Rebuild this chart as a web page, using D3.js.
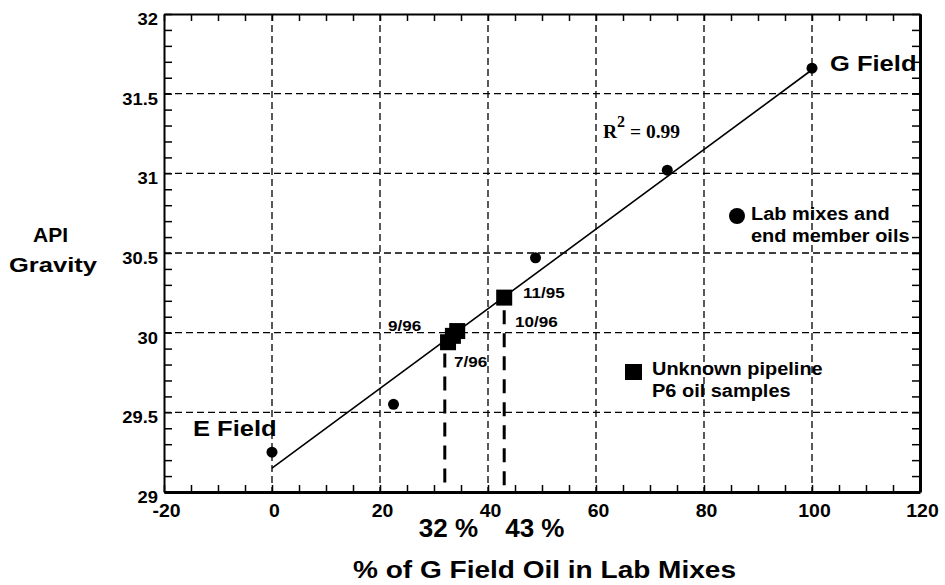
<!DOCTYPE html>
<meta charset="utf-8">
<style>
  body { margin: 0; background: #fff; }
  text { font-family: "Liberation Sans", Arial, sans-serif; font-weight: bold; fill: #000; }
  .serif { font-family: "Liberation Serif", "Times New Roman", serif; }
</style>
<body>
<svg></svg>
<script src="https://cdn.jsdelivr.net/npm/d3@7"></script>
<script>

  // data
  var labMix = [[0, 29.25], [22.5, 29.55], [48.8, 30.47], [73.2, 31.02], [100, 31.66]];  // lab mixes + end members
  var pipeline = [[32.6, 29.94], [33.5, 29.98], [34.3, 30.01], [43.0, 30.22]];         // P6 samples
  var fitLine = [[0, 29.15], [100, 31.65]];          // regression, R2 = 0.99
  var estimates = [[32, 29.87], [43, 30.14]];        // % G field estimates, top of dashed marker
  var xTicks = [-20, 0, 20, 40, 60, 80, 100, 120];
  var yTicks = [29, 29.5, 30, 30.5, 31, 31.5, 32];
  var xGrid = [0, 20, 40, 60, 80, 100];
  var yGrid = [29.5, 30, 30.5, 31, 31.5];

  var width = 945, height = 585;
  var svg = d3.select("svg").attr("width", width).attr("height", height);

  var x = d3.scaleLinear().domain([-20, 120]).range([164, 920]);
  var y = d3.scaleLinear().domain([29, 32]).range([492, 14]);

  // the original lettering is a bit wider than Arial, so stretch it
  function stretch(sel, f) {
    sel.each(function() {
      var w = this.getComputedTextLength();
      d3.select(this).attr("textLength", w * f).attr("lengthAdjust", "spacingAndGlyphs");
    });
    return sel;
  }

  // gridlines
  svg.selectAll(".vgrid").data(xGrid).enter().append("line")
     .attr("x1", d => x(d)).attr("x2", d => x(d))
     .attr("y1", y(32)).attr("y2", y(29))
     .attr("stroke", "#000").attr("stroke-width", 1.3).attr("stroke-dasharray", "7,4");
  svg.selectAll(".hgrid").data(yGrid).enter().append("line")
     .attr("x1", x(-20)).attr("x2", x(120))
     .attr("y1", d => y(d)).attr("y2", d => y(d))
     .attr("stroke", "#000").attr("stroke-width", 1.3).attr("stroke-dasharray", "7,4");

  // axes: ticks point inward
  var fmtX = d => xTicks.includes(d) ? d : "";
  var fmtY = d => yTicks.some(t => Math.abs(t - d) < 1e-6) ? d3.format("~g")(d) : "";
  var xMinor = d3.range(-20, 121, 5);
  var yMinor = d3.range(29, 32.001, 0.1);

  var gB = svg.append("g").attr("transform", "translate(0," + y(29) + ")")
     .call(d3.axisBottom(x).tickValues(xMinor).tickSizeInner(-7).tickSizeOuter(0).tickPadding(12).tickFormat(fmtX));
  var gT = svg.append("g").attr("transform", "translate(0," + y(32) + ")")
     .call(d3.axisTop(x).tickValues(xMinor).tickSizeInner(-7).tickSizeOuter(0).tickFormat(""));
  var gL = svg.append("g").attr("transform", "translate(" + x(-20) + ",0)")
     .call(d3.axisLeft(y).tickValues(yMinor).tickSizeInner(-8).tickSizeOuter(0).tickPadding(6).tickFormat(fmtY));
  var gR = svg.append("g").attr("transform", "translate(" + x(120) + ",0)")
     .call(d3.axisRight(y).tickValues(yMinor).tickSizeInner(-8).tickSizeOuter(0).tickFormat(""));

  [gB, gT, gL, gR].forEach(g => {
    g.selectAll("line").attr("stroke", "#000").attr("stroke-width", 1.5);
    g.selectAll("text").attr("font-size", 18).attr("fill", "#000")
     .style("font-family", '"Liberation Sans", Arial, sans-serif').style("font-weight", "bold");
  });
  gB.select(".domain").attr("stroke-width", 3);
  gR.select(".domain").attr("stroke-width", 3);
  gT.select(".domain").attr("stroke-width", 2);
  gL.select(".domain").attr("stroke-width", 2);
  gL.selectAll("text").attr("dy", "0.62em").attr("font-size", 17);
  gB.selectAll("text").attr("dx", 2);
  stretch(gB.selectAll("text").filter(function() { return this.textContent != ""; }), 1.08);
  stretch(gL.selectAll("text").filter(function() { return this.textContent != ""; }), 1.08);

  // regression line
  var line = d3.line().x(d => x(d[0])).y(d => y(d[1]));
  svg.append("path").datum(fitLine).attr("d", line)
     .attr("fill", "none").attr("stroke", "#000").attr("stroke-width", 1.6);

  // dashed estimate markers
  svg.selectAll(".est").data(estimates).enter().append("line")
     .attr("x1", d => x(d[0])).attr("x2", d => x(d[0]))
     .attr("y1", d => y(d[1])).attr("y2", y(29) - 3)
     .attr("stroke", "#000").attr("stroke-width", 3).attr("stroke-dasharray", "14,9");

  svg.selectAll(".estlab").data(estimates).enter().append("text")
     .attr("x", (d, i) => i == 0 ? x(d[0]) - 26 : x(d[0]) + 1)
     .attr("y", 537).attr("font-size", 26)
     .text(d => d[0] + " %");

  // lab mix points
  svg.selectAll(".mix").data(labMix).enter().append("circle")
     .attr("cx", d => x(d[0])).attr("cy", d => y(d[1])).attr("r", 5.5).attr("fill", "#000");

  // pipeline samples
  svg.selectAll(".pipe").data(pipeline).enter().append("rect")
     .attr("x", d => x(d[0]) - 8).attr("y", d => y(d[1]) - 8)
     .attr("width", 16).attr("height", 16).attr("fill", "#000");

  // sample date labels
  var dates = svg.append("g").attr("font-size", 15.5);
  dates.append("text").attr("x", 388).attr("y", 331).text("9/96");
  dates.append("text").attr("x", 454).attr("y", 367).text("7/96");
  dates.append("text").attr("x", 523).attr("y", 298).text("11/95");
  dates.append("text").attr("x", 515).attr("y", 327).text("10/96");
  stretch(dates.selectAll("text"), 1.1);

  // field labels
  stretch(svg.append("text").attr("x", 193).attr("y", 436).attr("font-size", 22).text("E Field"), 1.16);
  stretch(svg.append("text").attr("x", 830).attr("y", 71).attr("font-size", 22).text("G Field"), 1.16);

  var r2 = svg.append("text").attr("class", "serif").attr("x", 603).attr("y", 138).attr("font-size", 19.5);
  r2.append("tspan").text("R");
  r2.append("tspan").attr("dy", -11).attr("font-size", 16).text("2");
  r2.append("tspan").attr("dy", 11).text(" = 0.99");

  // legend
  svg.append("circle").attr("cx", 737).attr("cy", 216).attr("r", 8).attr("fill", "#000");
  svg.append("rect").attr("x", 625).attr("y", 364).attr("width", 17).attr("height", 16).attr("fill", "#000");
  var leg = svg.append("g").attr("font-size", 17.5);
  leg.append("text").attr("x", 751).attr("y", 220).text("Lab mixes and");
  leg.append("text").attr("x", 751).attr("y", 242).text("end member oils");
  leg.append("text").attr("x", 652).attr("y", 375).text("Unknown pipeline");
  leg.append("text").attr("x", 652).attr("y", 397).text("P6 oil samples");
  stretch(leg.selectAll("text"), 1.14);

  // axis titles
  svg.append("text").attr("x", 353).attr("y", 578).attr("font-size", 23)
     .attr("textLength", 383).attr("lengthAdjust", "spacingAndGlyphs")
     .text("% of G Field Oil in Lab Mixes");
  svg.append("text").attr("x", 33).attr("y", 242).attr("font-size", 21).text("API");
  svg.append("text").attr("x", 9).attr("y", 272).attr("font-size", 21)
     .attr("textLength", 88).attr("lengthAdjust", "spacingAndGlyphs").text("Gravity");

</script>
</body>
</html>
